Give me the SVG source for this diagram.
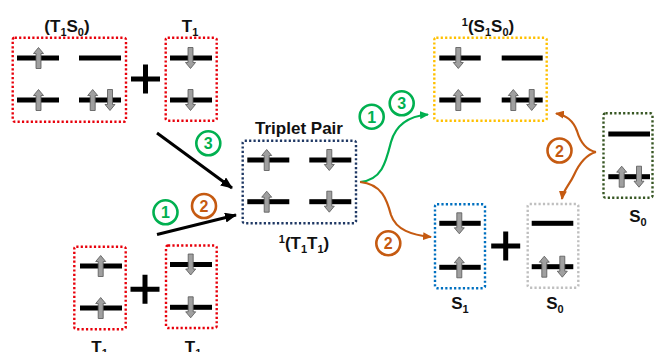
<svg xmlns="http://www.w3.org/2000/svg" xmlns:xlink="http://www.w3.org/1999/xlink" width="654" height="352" viewBox="0 0 654 352">
<style>
.box{fill:none;stroke-width:2.4;stroke-dasharray:2.2 2.2}
.bar{fill:#000}
.lbl{font-family:"Liberation Sans",Arial,sans-serif;font-weight:bold;font-size:17px;fill:#111;text-anchor:middle}
.sub{font-size:11px}
.num{font-family:"Liberation Sans",Arial,sans-serif;font-weight:bold;font-size:16px;text-anchor:middle;dominant-baseline:central}
.cg{fill:#fff;stroke:#00b050;stroke-width:2.6}
.co{fill:#fff;stroke:#c55a11;stroke-width:2.6}
.plus{stroke:#000;stroke-width:5;fill:none}
</style>
<defs>
<path id="up" d="M0,-10.5 L5,-4.5 L2.5,-4.5 L2.5,10.5 L-2.5,10.5 L-2.5,-4.5 L-5,-4.5 Z" fill="#a0a0a0" stroke="#555" stroke-width="0.8"/>
<path id="dn" d="M0,10.5 L5,4.5 L2.5,4.5 L2.5,-10.5 L-2.5,-10.5 L-2.5,4.5 L-5,4.5 Z" fill="#a0a0a0" stroke="#555" stroke-width="0.8"/>
<marker id="mk" viewBox="0 0 12 10" refX="11" refY="5" markerWidth="12" markerHeight="10" markerUnits="userSpaceOnUse" orient="auto"><path d="M0,0 L12,5 L0,10 Z" fill="#000"/></marker>
<marker id="mg" viewBox="0 0 9 8" refX="8" refY="4" markerWidth="9" markerHeight="8" markerUnits="userSpaceOnUse" orient="auto"><path d="M0,0 L9,4 L0,8 Z" fill="#00b050"/></marker>
<marker id="mo" viewBox="0 0 9 8" refX="8" refY="4" markerWidth="9" markerHeight="8" markerUnits="userSpaceOnUse" orient="auto"><path d="M0,0 L9,4 L0,8 Z" fill="#c55a11"/></marker>
</defs>

<g id="connectors">
<line x1="157" y1="133" x2="232" y2="188" stroke="#000" stroke-width="3" marker-end="url(#mk)"/>
<line x1="157" y1="234.5" x2="236" y2="215" stroke="#000" stroke-width="3" marker-end="url(#mk)"/>
<path d="M360,182 C382,180 386,162 391,142 C396,124 410,116 428,114.5" fill="none" stroke="#00b050" stroke-width="2.2" marker-end="url(#mg)"/>
<path d="M360,182 C382,184 387,200 391,215 C396,230 412,235 431,237" fill="none" stroke="#c55a11" stroke-width="2.2" marker-end="url(#mo)"/>
<path d="M596,152 C585,150 580,141 577,131 C573,120 566,115 556,113.5" fill="none" stroke="#c55a11" stroke-width="2.2" marker-end="url(#mo)"/>
<path d="M596,152 C585,155 579,164 574,175 C569,186 563,190 562,199" fill="none" stroke="#c55a11" stroke-width="2.2" marker-end="url(#mo)"/>
<g id="labels-steps">
<circle class="cg" cx="165.5" cy="212.3" r="12"/><text class="num" x="165.5" y="212.8" fill="#00b050">1</text>
<circle class="co" cx="204" cy="206" r="12"/><text class="num" x="204" y="206.5" fill="#c55a11">2</text>
<circle class="cg" cx="208.3" cy="143.3" r="12"/><text class="num" x="208.3" y="143.8" fill="#00b050">3</text>
<circle class="cg" cx="371.7" cy="116.7" r="12"/><text class="num" x="371.7" y="117.2" fill="#00b050">1</text>
<circle class="cg" cx="401.7" cy="103.3" r="12"/><text class="num" x="401.7" y="103.8" fill="#00b050">3</text>
<circle class="co" cx="388.3" cy="243.3" r="12"/><text class="num" x="388.3" y="243.8" fill="#c55a11">2</text>
<circle class="co" cx="559.5" cy="150.5" r="12"/><text class="num" x="559.5" y="151" fill="#c55a11">2</text>
</g>
</g>

<g id="T1S0">
<rect class="box" x="12.7" y="37.7" width="113.3" height="84" rx="2" stroke="#e8000b"/>
<rect class="bar" x="17" y="55.5" width="42" height="5"/>
<rect class="bar" x="79" y="55.5" width="42" height="5"/>
<rect class="bar" x="17" y="97.5" width="42" height="5"/>
<rect class="bar" x="79" y="97.5" width="42" height="5"/>
<use xlink:href="#up" x="38.5" y="58"/>
<use xlink:href="#up" x="38.5" y="100"/>
<use xlink:href="#up" x="92.7" y="100"/>
<use xlink:href="#dn" x="110" y="100"/>
<text class="lbl" x="67" y="32">(T<tspan class="sub" dy="4">1</tspan><tspan dy="-4">S</tspan><tspan class="sub" dy="4">0</tspan><tspan dy="-4">)</tspan></text>
</g>

<path id="plus1" class="plus" d="M131,79 H160 M145.5,64.5 V93.5"/>

<g id="T1top">
<rect class="box" x="165.7" y="37.7" width="51" height="83" rx="2" stroke="#e8000b"/>
<rect class="bar" x="170" y="55.5" width="42" height="5"/>
<rect class="bar" x="170" y="97.5" width="42" height="5"/>
<use xlink:href="#dn" x="190.5" y="58"/>
<use xlink:href="#dn" x="190.5" y="100"/>
<text class="lbl" x="190" y="32">T<tspan class="sub" dy="4">1</tspan></text>
</g>

<g id="T1left">
<rect class="box" x="74.3" y="246.7" width="51.4" height="82.6" rx="2" stroke="#e8000b"/>
<rect class="bar" x="80" y="263.5" width="42" height="5"/>
<rect class="bar" x="80" y="305.5" width="42" height="5"/>
<use xlink:href="#up" x="100.7" y="266"/>
<use xlink:href="#up" x="100.7" y="308"/>
<text class="lbl" x="99.5" y="353">T<tspan class="sub" dy="4">1</tspan></text>
</g>

<path id="plus2" class="plus" d="M130.5,289.3 H159.5 M145,274.8 V303.8"/>

<g id="T1right">
<rect class="box" x="166" y="245.5" width="50.7" height="82.5" rx="2" stroke="#e8000b"/>
<rect class="bar" x="170" y="262" width="42" height="5"/>
<rect class="bar" x="170" y="304.8" width="42" height="5"/>
<use xlink:href="#dn" x="190.7" y="264.5"/>
<use xlink:href="#dn" x="190.7" y="307.3"/>
<text class="lbl" x="193" y="353">T<tspan class="sub" dy="4">1</tspan></text>
</g>

<g id="TripletPair">
<rect class="box" x="242.7" y="140.7" width="113.3" height="82.6" rx="2" stroke="#1f3864"/>
<rect class="bar" x="247.3" y="157.5" width="42" height="5"/>
<rect class="bar" x="309.3" y="157.5" width="42" height="5"/>
<rect class="bar" x="247.3" y="199.2" width="42" height="5"/>
<rect class="bar" x="309.3" y="199.2" width="42" height="5"/>
<use xlink:href="#up" x="266.7" y="160"/>
<use xlink:href="#dn" x="329.3" y="160"/>
<use xlink:href="#up" x="266.7" y="201.7"/>
<use xlink:href="#dn" x="329.3" y="201.7"/>
<text class="lbl" x="299" y="134">Triplet Pair</text>
<text class="lbl" x="304" y="249"><tspan class="sub" dy="-6">1</tspan><tspan dy="6">(T</tspan><tspan class="sub" dy="4">1</tspan><tspan dy="-4">T</tspan><tspan class="sub" dy="4">1</tspan><tspan dy="-4">)</tspan></text>
</g>

<g id="S1S0">
<rect class="box" x="434.3" y="37.7" width="112.4" height="83" rx="2" stroke="#ffc000"/>
<rect class="bar" x="439.3" y="55.5" width="41.4" height="5"/>
<rect class="bar" x="501.7" y="55.5" width="41" height="5"/>
<rect class="bar" x="439.3" y="97.5" width="41.4" height="5"/>
<rect class="bar" x="501.7" y="97.5" width="41" height="5"/>
<use xlink:href="#dn" x="458.3" y="58"/>
<use xlink:href="#up" x="458.3" y="100"/>
<use xlink:href="#up" x="513.3" y="100"/>
<use xlink:href="#dn" x="531.7" y="100"/>
<text class="lbl" x="488" y="32"><tspan class="sub" dy="-6">1</tspan><tspan dy="6">(S</tspan><tspan class="sub" dy="4">1</tspan><tspan dy="-4">S</tspan><tspan class="sub" dy="4">0</tspan><tspan dy="-4">)</tspan></text>
</g>

<g id="S1">
<rect class="box" x="435" y="204.3" width="50" height="84" rx="2" stroke="#0070c0"/>
<rect class="bar" x="439.3" y="220.8" width="41.4" height="5"/>
<rect class="bar" x="439.3" y="264.8" width="41.4" height="5"/>
<use xlink:href="#dn" x="459.3" y="223.3"/>
<use xlink:href="#up" x="459.3" y="267.3"/>
<text class="lbl" x="460" y="309">S<tspan class="sub" dy="4">1</tspan></text>
</g>

<path id="plus3" class="plus" d="M491.2,246 H520.2 M505.7,231.5 V260.5"/>

<g id="S0gray">
<rect class="box" x="527.7" y="204" width="50.6" height="83.7" rx="2" stroke="#bfbfbf"/>
<rect class="bar" x="531.7" y="220.8" width="41.6" height="5"/>
<rect class="bar" x="531.7" y="264.2" width="41.6" height="5"/>
<use xlink:href="#up" x="544.3" y="266.7"/>
<use xlink:href="#dn" x="562.3" y="266.7"/>
<text class="lbl" x="555" y="309">S<tspan class="sub" dy="4">0</tspan></text>
</g>

<g id="S0green">
<rect class="box" x="603.5" y="113.3" width="49" height="84.4" rx="2" stroke="#375623"/>
<rect class="bar" x="608.3" y="131.5" width="41.7" height="5"/>
<rect class="bar" x="608.3" y="174.2" width="41.7" height="5"/>
<use xlink:href="#up" x="621.7" y="176.7"/>
<use xlink:href="#dn" x="639" y="176.7"/>
<text class="lbl" x="638" y="222">S<tspan class="sub" dy="4">0</tspan></text>
</g>
</svg>
